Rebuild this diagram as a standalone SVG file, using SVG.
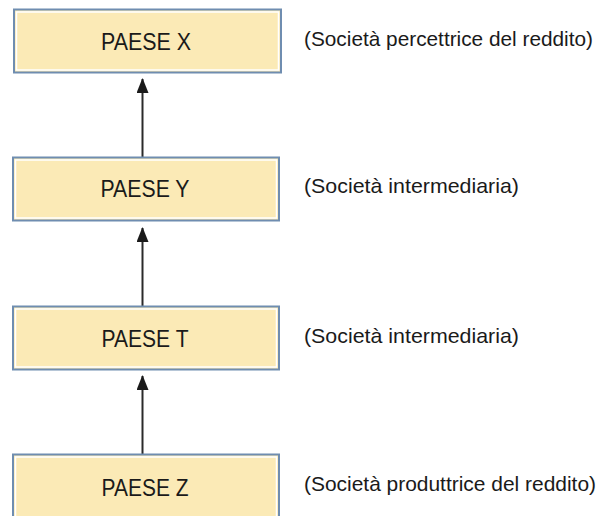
<svg xmlns="http://www.w3.org/2000/svg" width="602" height="516" viewBox="0 0 602 516">
<style>
.box{fill:#fbeab6;stroke:#6f8db0;stroke-width:2}
.inner{fill:none;stroke:#ffffff;stroke-width:1.5}
.t{font-family:"Liberation Sans",Arial,sans-serif;font-size:23px;fill:#1a1a1a;text-anchor:middle}
.l{font-family:"Liberation Sans",Arial,sans-serif;font-size:21px;fill:#1a1a1a}
.c{stroke:#2a2a2a;stroke-width:2;fill:none;marker-end:url(#ah)}
</style>
<defs>
<marker id="ah" markerUnits="userSpaceOnUse" markerWidth="16" markerHeight="14" refX="14" refY="6" orient="auto">
<path d="M0,0 L15,6 L0,12 Z" fill="#1a1a1a"/>
</marker>
</defs>
<rect width="602" height="516" fill="#ffffff"/>
<g id="connectors">
<line class="c" x1="142.5" y1="157" x2="142.5" y2="79"/>
<line class="c" x1="142.5" y1="306" x2="142.5" y2="228"/>
<line class="c" x1="142.5" y1="454" x2="142.5" y2="376"/>
</g>
<g id="paeseX">
<rect class="box" x="14" y="9.5" width="267" height="63"/>
<rect class="inner" x="16.5" y="12" width="262" height="58"/>
<text class="t" x="146" y="50" textLength="90" lengthAdjust="spacingAndGlyphs">PAESE X</text>
<text class="l" x="304" y="46" textLength="289" lengthAdjust="spacingAndGlyphs">(Società percettrice del reddito)</text>
</g>
<g id="paeseY">
<rect class="box" x="13" y="157.5" width="266" height="63"/>
<rect class="inner" x="15.5" y="160" width="261" height="58"/>
<text class="t" x="145" y="197" textLength="89" lengthAdjust="spacingAndGlyphs">PAESE Y</text>
<text class="l" x="304" y="193" textLength="215" lengthAdjust="spacingAndGlyphs">(Società intermediaria)</text>
</g>
<g id="paeseT">
<rect class="box" x="13" y="306.5" width="266" height="63"/>
<rect class="inner" x="15.5" y="309" width="261" height="58"/>
<text class="t" x="145" y="347" textLength="87" lengthAdjust="spacingAndGlyphs">PAESE T</text>
<text class="l" x="304" y="343" textLength="215" lengthAdjust="spacingAndGlyphs">(Società intermediaria)</text>
</g>
<g id="paeseZ">
<rect class="box" x="13" y="454.5" width="266" height="70"/>
<rect class="inner" x="15.5" y="457" width="261" height="70"/>
<text class="t" x="145" y="496" textLength="87" lengthAdjust="spacingAndGlyphs">PAESE Z</text>
<text class="l" x="304" y="491" textLength="292" lengthAdjust="spacingAndGlyphs">(Società produttrice del reddito)</text>
</g>
</svg>
